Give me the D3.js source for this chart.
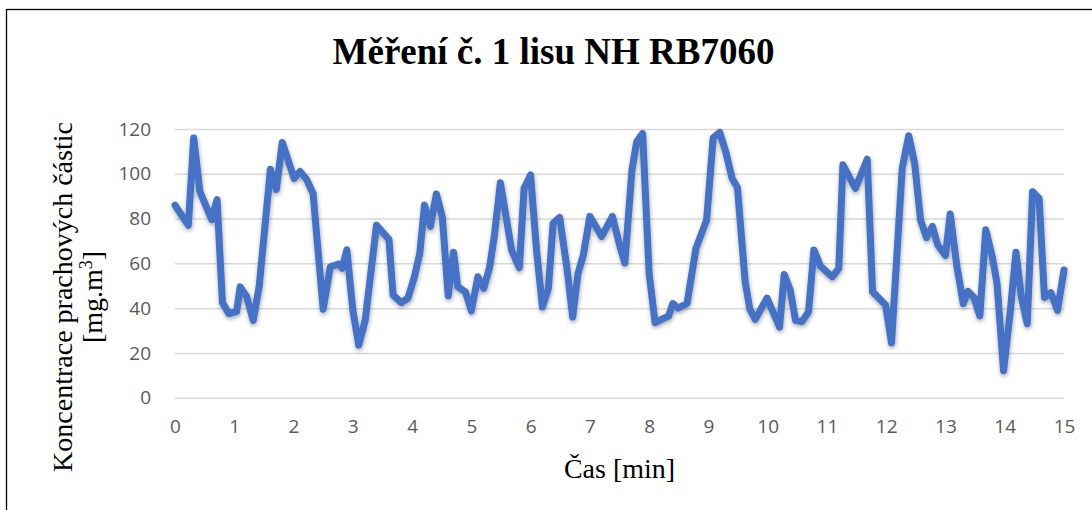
<!DOCTYPE html>
<html>
<head>
<meta charset="utf-8">
<script src="https://cdn.jsdelivr.net/npm/d3@7"></script>
<style>
  html, body { margin: 0; padding: 0; background: #fff; }
  svg { display: block; }
</style>
</head>
<body>
<svg id="chart" width="1092" height="510"></svg>
<script>
// ---- data ----
const title = "Měření č. 1 lisu NH RB7060";
const xTitle = "Čas [min]";
const yTitleLine1 = "Koncentrace prachových částic";
const yTitleLine2 = "[mg.m";
const xTicks = [0,1,2,3,4,5,6,7,8,9,10,11,12,13,14,15];
const yTicks = [0,20,40,60,80,100,120];

const times = [
  0, 0.225, 0.316, 0.42, 0.62, 0.71, 0.80, 0.91, 1.04, 1.10,
  1.21, 1.32, 1.42, 1.61, 1.71, 1.81, 2.01, 2.11, 2.22, 2.33,
  2.50, 2.62, 2.76, 2.82, 2.90, 3.00, 3.10, 3.21, 3.40, 3.61,
  3.68, 3.82, 3.93, 4.04, 4.13, 4.21, 4.31, 4.41, 4.51, 4.61,
  4.70, 4.77, 4.90, 5.00, 5.11, 5.21, 5.31, 5.39, 5.49, 5.68,
  5.81, 5.89, 6.00, 6.10, 6.20, 6.30, 6.38, 6.49, 6.61, 6.71,
  6.80, 6.89, 7.00, 7.20, 7.38, 7.51, 7.59, 7.71, 7.79, 7.89,
  8.00, 8.10, 8.21, 8.33, 8.40, 8.49, 8.64, 8.79, 8.97, 9.08,
  9.19, 9.30, 9.40, 9.49, 9.62, 9.70, 9.79, 9.99, 10.20, 10.28,
  10.38, 10.47, 10.58, 10.69, 10.78, 10.89, 11.09, 11.20, 11.27, 11.48,
  11.68, 11.77, 11.99, 12.09, 12.27, 12.38, 12.48, 12.58, 12.68, 12.78,
  12.87, 13.00, 13.08, 13.19, 13.30, 13.38, 13.48, 13.58, 13.68, 13.79,
  13.87, 13.98, 14.09, 14.19, 14.28, 14.38, 14.47, 14.58, 14.67, 14.78,
  14.89, 15.0
];
const concentration = [
  86, 77, 116, 92, 79.5, 88.5, 42.5, 37.5, 38.4, 49.5,
  45.1, 34.5, 49.6, 102, 93, 114, 97.9, 101, 97.5, 91.2,
  39.5, 58.5, 59.7, 57.8, 66, 39.2, 23.5, 34.7, 77, 70.7,
  45.8, 42.5, 44.4, 54, 64.4, 86, 76.5, 91, 80.8, 45.5,
  65, 49.6, 47.3, 38.8, 54, 48.8, 58.5, 72.6, 96, 65.9,
  58, 93.5, 99.5, 65.9, 40.5, 48.8, 77.9, 80.5, 58.5, 36,
  55.5, 63.7, 81, 72, 81, 67.4, 60.2, 101.6, 114.3, 118,
  55.5, 33.5, 35, 36.5, 42, 40, 42.1, 66.7, 79.3, 116,
  118.5, 109.1, 97.9, 93.9, 51.8, 39.5, 35, 44.5, 31.5, 55,
  48.1, 34.5, 34, 38.4, 66, 58.8, 54, 57.8, 104, 93.5,
  106.5, 47.3, 41.4, 24.5, 102.4, 117, 104.6, 79.3, 71.5, 76.5,
  68.2, 63.5, 82, 59.2, 42, 47.5, 44.8, 36.5, 75, 62.9,
  51, 12, 37.7, 65, 45.1, 33, 92, 89, 44.8, 46.9,
  39, 57
];

// ---- layout ----
const svg = d3.select("#chart");
const W = 1092, H = 510;
const plot = { left: 175, right: 1064, top: 129, bottom: 397.7 };

const x = d3.scaleLinear().domain([0, 15]).range([plot.left, plot.right]);
const y = d3.scaleLinear().domain([0, 120]).range([plot.bottom, plot.top]);

// chart border
svg.append("rect")
  .attr("x", 6.5).attr("y", 9.5)
  .attr("width", W + 10).attr("height", H + 10)
  .attr("fill", "#fff").attr("stroke", "#000").attr("stroke-width", 1.3);

// shadow filter
const defs = svg.append("defs");
const f = defs.append("filter").attr("id", "shadow")
  .attr("x", "-5%").attr("y", "-10%").attr("width", "110%").attr("height", "125%");
f.append("feDropShadow").attr("dx", 0.5).attr("dy", 2).attr("stdDeviation", 2)
  .attr("flood-color", "#000").attr("flood-opacity", 0.35);

// gridlines + y tick labels via axis
const yAxis = d3.axisLeft(y).tickValues(yTicks).tickSize(-(plot.right - plot.left)).tickPadding(24);
const gy = svg.append("g").attr("transform", `translate(${plot.left},0)`).call(yAxis);
gy.select(".domain").remove();
gy.selectAll(".tick line").attr("stroke", "#d9d9d9").attr("stroke-width", 1.5);
gy.selectAll(".tick text")
  .attr("fill", "#595959")
  .style("font-family", "'Open Sans', 'Noto Sans', sans-serif")
  .style("font-size", "19px");

// x tick labels via axis
const xAxis = d3.axisBottom(x).tickValues(xTicks).tickSize(0).tickPadding(22).tickFormat(d3.format("d"));
const gx = svg.append("g").attr("transform", `translate(0,${plot.bottom})`).call(xAxis);
gx.select(".domain").remove();
gx.selectAll(".tick text")
  .attr("fill", "#595959")
  .style("font-family", "'Open Sans', 'Noto Sans', sans-serif")
  .style("font-size", "19px");

// line
const pts = times.map((t, i) => [t, concentration[i]]);
const line = d3.line().x(d => x(d[0])).y(d => y(d[1]));
svg.append("path")
  .datum(pts)
  .attr("d", line)
  .attr("fill", "none")
  .attr("stroke", "#4472C4")
  .attr("stroke-width", 7)
  .attr("stroke-linejoin", "round")
  .attr("stroke-linecap", "round")
  .attr("filter", "url(#shadow)");

// title
svg.append("text")
  .attr("x", 553.5).attr("y", 64)
  .attr("text-anchor", "middle")
  .style("font-family", "'Liberation Serif', 'Times New Roman', serif")
  .style("font-weight", "bold")
  .style("font-size", "37px")
  .attr("fill", "#000")
  .text(title);

// x axis title
svg.append("text")
  .attr("x", (plot.left + plot.right) / 2).attr("y", 478)
  .attr("text-anchor", "middle")
  .style("font-family", "'Liberation Serif', 'Times New Roman', serif")
  .style("font-size", "28px")
  .attr("fill", "#000")
  .text(xTitle);

// y axis title (two lines, rotated)
const yt = svg.append("g").attr("transform", "translate(72,297) rotate(-90)");
yt.append("text")
  .attr("x", 0).attr("y", 0)
  .attr("text-anchor", "middle")
  .style("font-family", "'Liberation Serif', 'Times New Roman', serif")
  .style("font-size", "28px")
  .attr("fill", "#000")
  .text(yTitleLine1);
const t2 = yt.append("text")
  .attr("x", 0).attr("y", 30)
  .attr("text-anchor", "middle")
  .style("font-family", "'Liberation Serif', 'Times New Roman', serif")
  .style("font-size", "28px")
  .attr("fill", "#000");
t2.append("tspan").text(yTitleLine2);
t2.append("tspan").attr("dy", -10).style("font-size", "18px").text("3");
t2.append("tspan").attr("dy", 10).text("]");
</script>
</body>
</html>
